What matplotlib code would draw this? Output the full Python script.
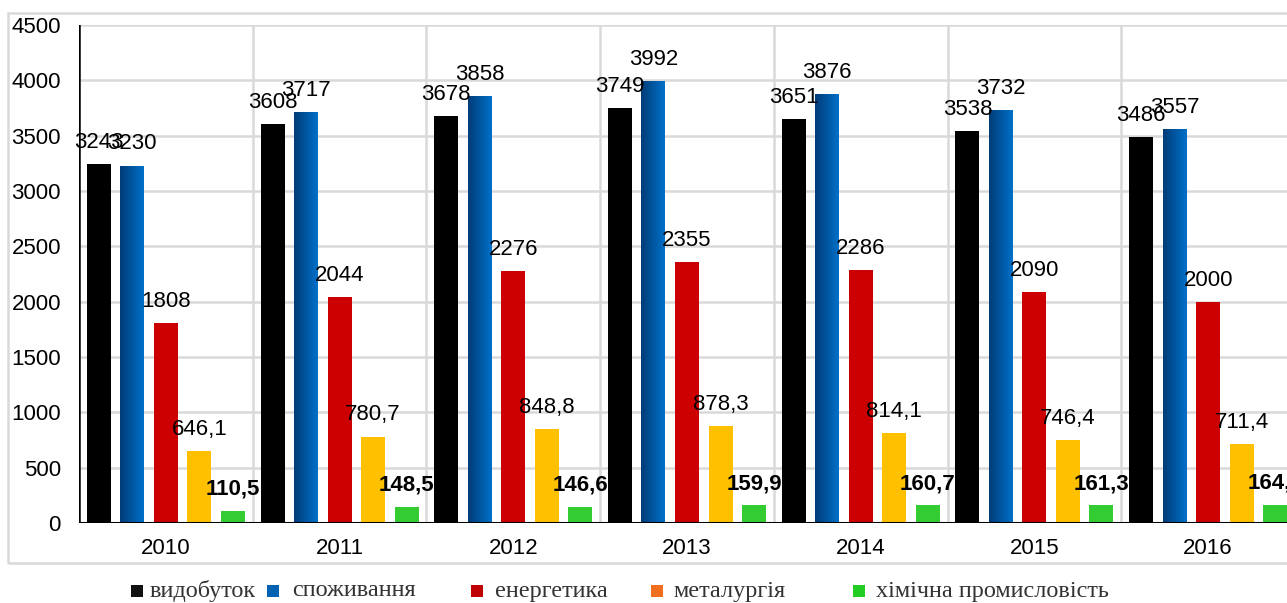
import numpy as np
import matplotlib
matplotlib.use("Agg")
import matplotlib.pyplot as plt
from matplotlib.patches import Rectangle
from matplotlib.colors import LinearSegmentedColormap

years = ["2010", "2011", "2012", "2013", "2014", "2015", "2016"]
vydobutok = [3243, 3608, 3678, 3749, 3651, 3538, 3486]
spozhyvannia = [3230, 3717, 3858, 3992, 3876, 3732, 3557]
energetyka = [1808, 2044, 2276, 2355, 2286, 2090, 2000]
metalurgiia = [646.1, 780.7, 848.8, 878.3, 814.1, 746.4, 711.4]
khimiia = [110.5, 148.5, 146.6, 159.9, 160.7, 161.3, 164.2]

series = [vydobutok, spozhyvannia, energetyka, metalurgiia, khimiia]
names = ["видобуток", "споживання", "енергетика", "металургія", "хімічна промисловість"]
bar_colors = ["#000000", "#0060b0", "#cc0000", "#ffc000", "#33cc33"]
legend_colors = ["#111111", "#0062b0", "#c00000", "#f07020", "#22cc22"]

W, H = 1287, 603
fig = plt.figure(figsize=(W / 100, H / 100), dpi=100)

# outer light border
fig.patches.append(Rectangle((8 / W, 1 - 563 / H), 1.2, (563 - 13) / H,
                             transform=fig.transFigure, fill=False,
                             edgecolor="#d9d9d9", linewidth=1.8, zorder=0))

ax = fig.add_axes([79 / W, 80 / H, 1216 / W, 498 / H])
for s in ax.spines.values():
    s.set_visible(False)

x = np.arange(len(years))
step = 0.193
width = 0.138
blue_cmap = LinearSegmentedColormap.from_list("b", ["#003c78", "#0070c8"])
FS = 16

for k, vals in enumerate(series):
    pos = x + (k - 2) * step
    bars = ax.bar(pos, vals, width, color=bar_colors[k], zorder=3)
    if k == 1:
        for b in bars:
            im = ax.imshow(np.linspace(0, 1, 50).reshape(1, -1), cmap=blue_cmap,
                           extent=[b.get_x(), b.get_x() + b.get_width(), 0, b.get_height()],
                           aspect="auto", zorder=3.5)
            im.set_clip_path(b)
    for p, v in zip(pos, vals):
        if isinstance(v, float):
            txt = f"{v:.1f}".replace(".", ",")
        else:
            txt = str(v)
        ax.annotate(txt, (p, v), xytext=(0, 8), textcoords="offset points",
                    ha="center", va="bottom", fontsize=FS,
                    fontweight="bold" if k == 4 else "normal",
                    family="Liberation Sans", zorder=5)

ax.set_xlim(-0.5, 6.5)
ax.set_ylim(0, 4500)
ax.set_yticks(np.arange(0, 4501, 500))
ax.set_xticks(x)
ax.set_xticklabels(years, family="Liberation Sans", fontsize=FS)
for lab in ax.get_yticklabels():
    lab.set_family("Liberation Sans")
    lab.set_fontsize(FS)
ax.tick_params(axis="y", length=0, pad=13)
ax.tick_params(axis="x", length=0, pad=11)

ax.yaxis.grid(True, color="#d9d9d9", linewidth=1.8, zorder=0)
for b in np.arange(0.5, 6.5, 1.0):
    ax.axvline(b, color="#d9d9d9", linewidth=1.8, zorder=0, ymin=-0.02)
ax.axhline(0, color="black", linewidth=2.2, zorder=4)
ax.axvline(-0.5, color="black", linewidth=1.8, zorder=4)
ax.set_axisbelow(True)

# legend below the frame
leg_x = [131, 267, 471, 651, 853]
txt_x = [150, 292, 495, 673, 876]
for c, nm, mx, tx in zip(legend_colors, names, leg_x, txt_x):
    fig.patches.append(Rectangle((mx / W, 1 - 597 / H), 12 / W, 12 / H,
                                 transform=fig.transFigure, facecolor=c,
                                 edgecolor="none"))
    fig.text(tx / W, 1 - 591 / H, nm, ha="left", va="center",
             family="Liberation Serif", fontsize=17.5, color="#333333")

fig.savefig("out.png", dpi=100)
